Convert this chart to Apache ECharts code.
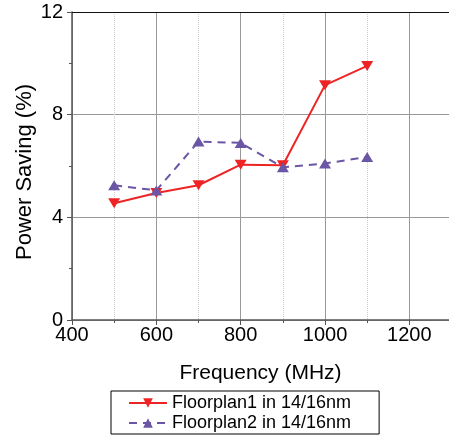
<!DOCTYPE html>
<html>
<head>
<meta charset="utf-8">
<script src="https://cdn.jsdelivr.net/npm/echarts@6/dist/echarts.min.js"></script>
<style>
html,body{margin:0;padding:0;background:#fff;}
#c{width:449px;height:436px;}
</style>
</head>
<body>
<div id="c"></div>
<script>
var frequencies = [500, 600, 700, 800, 900, 1000, 1100];
var floorplan1 = [4.55, 4.95, 5.25, 6.05, 6.03, 9.15, 9.9];
var floorplan2 = [5.25, 5.05, 6.95, 6.9, 5.95, 6.1, 6.35];
var seriesNames = ['Floorplan1 in 14/16nm', 'Floorplan2 in 14/16nm'];
var xMin = 400, xMax = 1294, xStep = 200;
var yMin = 0, yMax = 12, yStep = 4;

function pairs(xs, ys) { return xs.map(function (x, i) { return [x, ys[i]]; }); }

var font = 'Liberation Sans, Arial, sans-serif';
var chart = echarts.init(document.getElementById('c'), null, {renderer: 'canvas'});
chart.setOption({
  animation: false,
  backgroundColor: '#fff',
  grid: {left: 72, top: 12, right: 0, bottom: 116, show: false},
  xAxis: [{
    type: 'value', min: xMin, max: xMax, interval: xStep,
    name: 'Frequency (MHz)', nameLocation: 'middle', nameGap: 43, nameMoveOverlap: false,
    nameTextStyle: {fontFamily: font, fontSize: 21, color: '#000'},
    axisLine: {show: true, onZero: false, lineStyle: {color: '#555', width: 1.5}},
    axisTick: {show: true, length: 5, lineStyle: {color: '#555'}},
    minorTick: {show: true, splitNumber: 2, length: 3, lineStyle: {color: '#555'}},
    axisLabel: {fontFamily: font, fontSize: 20, color: '#000', margin: 5, showMaxLabel: false,
      formatter: function (v) { return v % 200 === 0 ? v : ''; }},
    splitLine: {show: true, showMaxLine: false, lineStyle: {color: '#999', width: 1}},
    minorSplitLine: {show: true, lineStyle: {color: '#ccc', type: 'dotted', width: 1}}
  }, {
    type: 'value', position: 'top', min: xMin, max: xMax, interval: xStep,
    axisLine: {show: true, onZero: false, lineStyle: {color: '#111', width: 1.2}},
    axisTick: {show: false}, axisLabel: {show: false}, splitLine: {show: false}
  }],
  yAxis: {
    type: 'value', min: yMin, max: yMax, interval: yStep,
    name: 'Power Saving (%)', nameLocation: 'middle', nameGap: 36, nameMoveOverlap: false,
    nameTextStyle: {fontFamily: font, fontSize: 22, color: '#000', padding: [0, 12, 0, 0]},
    axisLine: {show: true, lineStyle: {color: '#555', width: 1.5}},
    axisTick: {show: true, length: 5, lineStyle: {color: '#555'}},
    minorTick: {show: true, splitNumber: 2, length: 3, lineStyle: {color: '#555'}},
    axisLabel: {fontFamily: font, fontSize: 20, color: '#000', margin: 9},
    splitLine: {show: true, showMaxLine: false, lineStyle: {color: '#999', width: 1}}
  },
  legend: {
    orient: 'vertical', left: 111, top: 391, height: 200,
    padding: [3, 28, 2, 17],
    itemWidth: 38, itemHeight: 12, itemGap: 2,
    borderColor: '#000', borderWidth: 1, backgroundColor: '#fff',
    textStyle: {fontFamily: font, fontSize: 18, color: '#000', lineHeight: 18},
    data: seriesNames
  },
  series: [
    {
      name: seriesNames[0], type: 'line', data: pairs(frequencies, floorplan1),
      symbol: 'triangle', symbolRotate: 180, symbolSize: [12, 10],
      itemStyle: {color: '#ee2424'},
      lineStyle: {color: '#ee2424', width: 2}
    },
    {
      name: seriesNames[1], type: 'line', data: pairs(frequencies, floorplan2),
      symbol: 'triangle', symbolSize: [12, 10],
      itemStyle: {color: '#6b56a6'},
      lineStyle: {color: '#6b56a6', width: 2, type: [8, 6]}
    }
  ]
});
</script>
</body>
</html>
